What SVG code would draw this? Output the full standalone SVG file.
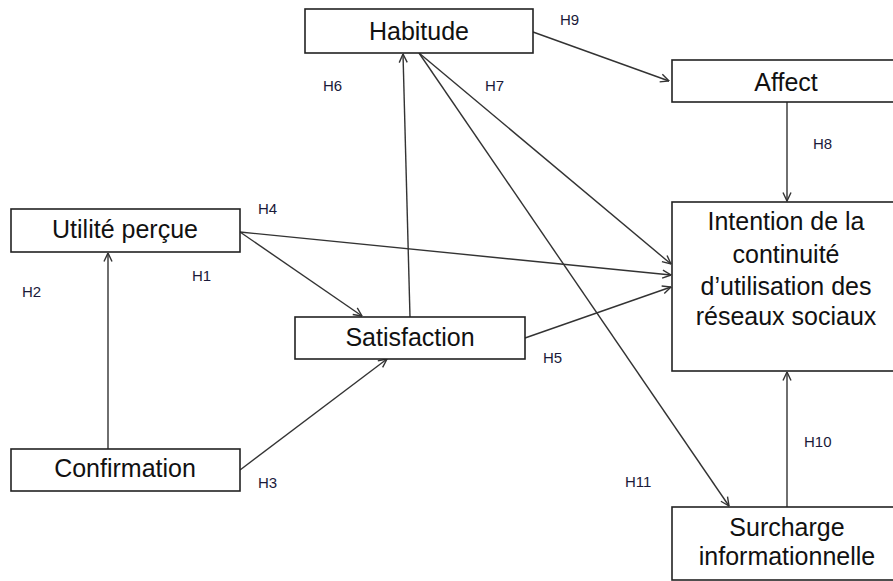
<svg xmlns="http://www.w3.org/2000/svg" width="893" height="581" viewBox="0 0 893 581">
<style>
.box{fill:#fff;stroke:#222;stroke-width:1.6}
.nt{font-family:"Liberation Sans",Arial,sans-serif;font-size:25px;fill:#111;text-anchor:middle}
.lb{font-family:"Liberation Sans",Arial,sans-serif;font-size:15px;fill:#1a1a3a}
.cn{stroke:#333;stroke-width:1.4;fill:none;marker-end:url(#ah)}
</style>
<defs>
<marker id="ah" viewBox="0 0 10 10" refX="9.5" refY="5" markerWidth="10" markerHeight="10" markerUnits="userSpaceOnUse" orient="auto">
<path d="M1,1 L9.5,5 L1,9" fill="none" stroke="#333" stroke-width="1.4"/>
</marker>
</defs>
<rect width="893" height="581" fill="#fff"/>
<g id="connectors">
<line class="cn" x1="108" y1="449" x2="108" y2="253"/>
<line class="cn" x1="240" y1="232" x2="362" y2="316"/>
<line class="cn" x1="240" y1="470" x2="387" y2="359"/>
<line class="cn" x1="410" y1="317" x2="403" y2="54"/>
<line class="cn" x1="240" y1="232" x2="671" y2="275"/>
<line class="cn" x1="525" y1="338" x2="671" y2="287"/>
<line class="cn" x1="419" y1="53" x2="671" y2="264"/>
<line class="cn" x1="419" y1="53" x2="729" y2="506"/>
<line class="cn" x1="533" y1="32" x2="669" y2="81"/>
<line class="cn" x1="787" y1="102" x2="787" y2="201"/>
<line class="cn" x1="787" y1="507" x2="787" y2="372"/>
</g>
<g id="labels">
<text class="lb" x="560" y="25">H9</text>
<text class="lb" x="323" y="91">H6</text>
<text class="lb" x="485" y="91">H7</text>
<text class="lb" x="813" y="149">H8</text>
<text class="lb" x="258" y="214">H4</text>
<text class="lb" x="192" y="281">H1</text>
<text class="lb" x="22" y="297">H2</text>
<text class="lb" x="543" y="363">H5</text>
<text class="lb" x="258" y="488">H3</text>
<text class="lb" x="625" y="487">H11</text>
<text class="lb" x="804" y="447">H10</text>
</g>
<g id="habitude">
<rect class="box" x="305" y="9" width="228" height="44"/>
<text class="nt" x="419" y="40">Habitude</text>
</g>
<g id="affect">
<rect class="box" x="672" y="60" width="230" height="42"/>
<text class="nt" x="786" y="91">Affect</text>
</g>
<g id="utilite">
<rect class="box" x="11" y="209" width="229" height="43"/>
<text class="nt" x="125" y="238">Utilité perçue</text>
</g>
<g id="satisfaction">
<rect class="box" x="295" y="317" width="230" height="42"/>
<text class="nt" x="410" y="346">Satisfaction</text>
</g>
<g id="confirmation">
<rect class="box" x="11" y="449" width="229" height="42"/>
<text class="nt" x="125" y="477">Confirmation</text>
</g>
<g id="intention">
<rect class="box" x="672" y="202" width="230" height="169"/>
<text class="nt" x="786" y="230">Intention de la</text>
<text class="nt" x="786" y="263">continuité</text>
<text class="nt" x="786" y="295">d’utilisation des</text>
<text class="nt" x="786" y="325">réseaux sociaux</text>
</g>
<g id="surcharge">
<rect class="box" x="672" y="507" width="230" height="73"/>
<text class="nt" x="787" y="536">Surcharge</text>
<text class="nt" x="787" y="565">informationnelle</text>
</g>
</svg>
